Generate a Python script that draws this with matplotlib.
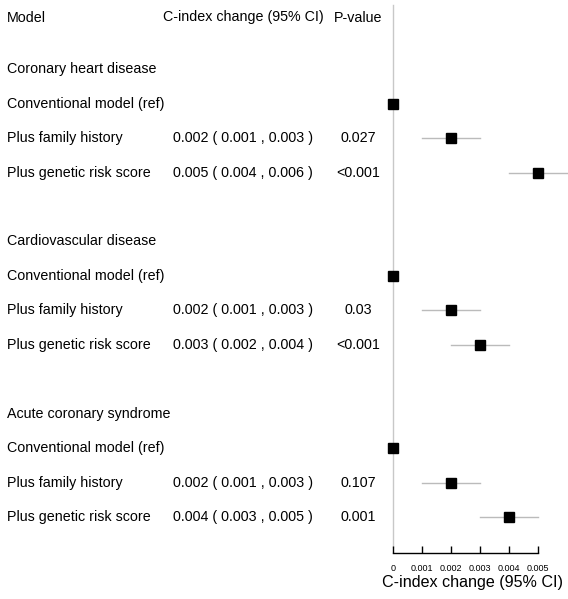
import matplotlib
matplotlib.use("Agg")
import matplotlib.pyplot as plt
from matplotlib.transforms import blended_transform_factory

plt.rcParams['font.family'] = ['Liberation Sans', 'DejaVu Sans']

# ---- data ----
groups = ["Coronary heart disease", "Cardiovascular disease", "Acute coronary syndrome"]
models = ["Conventional model (ref)", "Plus family history", "Plus genetic risk score"]
est = [[0.0, 0.002, 0.005], [0.0, 0.002, 0.003], [0.0, 0.002, 0.004]]
lo = [[0.0, 0.001, 0.004], [0.0, 0.001, 0.002], [0.0, 0.001, 0.003]]
hi = [[0.0, 0.003, 0.006], [0.0, 0.003, 0.004], [0.0, 0.003, 0.005]]
ci_text = [["", "0.002 ( 0.001 , 0.003 )", "0.005 ( 0.004 , 0.006 )"],
           ["", "0.002 ( 0.001 , 0.003 )", "0.003 ( 0.002 , 0.004 )"],
           ["", "0.002 ( 0.001 , 0.003 )", "0.004 ( 0.003 , 0.005 )"]]
pvals = [["", "0.027", "<0.001"], ["", "0.03", "<0.001"], ["", "0.107", "0.001"]]
xticks = [0, 0.001, 0.002, 0.003, 0.004, 0.005]
xtick_labels = ["0", "0.001", "0.002", "0.003", "0.004", "0.005"]

W, H = 568, 599
fig = plt.figure(figsize=(W / 100, H / 100), dpi=100)

ax_left, ax_right = 393, 567
ax_bottom_px = 553
ax = fig.add_axes([ax_left / W, 1 - ax_bottom_px / H, (ax_right - ax_left) / W, ax_bottom_px / H])

step = 34.45
y0px = 17.5
ax.set_xlim(0, 0.006)
ax.set_ylim((ax_bottom_px - y0px) / step, -y0px / step)

trans = blended_transform_factory(fig.transFigure, ax.transData)
fs = 10.3

# header
ax.text(7 / W, 0, "Model", transform=trans, fontsize=fs, va='center', ha='left')
ax.text(243 / W, 0, "C-index change (95% CI)", transform=trans, fontsize=fs, va='center', ha='center')
ax.text(358 / W, 0, "P-value", transform=trans, fontsize=fs, va='center', ha='center')

row = 1.5
for g, gname in enumerate(groups):
    ax.text(7 / W, row, gname, transform=trans, fontsize=fs, va='center', ha='left')
    row += 1
    for m, mname in enumerate(models):
        ax.text(7 / W, row, mname, transform=trans, fontsize=fs, va='center', ha='left')
        if ci_text[g][m]:
            ax.text(243 / W, row, ci_text[g][m], transform=trans, fontsize=fs, va='center', ha='center')
            ax.text(358 / W, row, pvals[g][m], transform=trans, fontsize=fs, va='center', ha='center')
        ax.plot([lo[g][m], hi[g][m]], [row, row], color='#bbbbbb', lw=1, zorder=2, clip_on=False)
        ax.plot(est[g][m], row, marker='s', color='black', ms=6.5, zorder=3, clip_on=False)
        row += 1
    row += 1

# reference line
ax.plot([0, 0], [(5 - y0px) / step, (547 - y0px) / step], color='#c8c8c8', lw=1, zorder=1, clip_on=False)

for s in ['top', 'right', 'left']:
    ax.spines[s].set_visible(False)
ax.spines['bottom'].set_bounds(0, 0.005)
ax.spines['bottom'].set_linewidth(1)
ax.set_yticks([])
ax.set_xticks(xticks)
ax.set_xticklabels(xtick_labels, fontsize=6.5)
ax.tick_params(axis='x', direction='in', length=5, width=1, pad=8)
ax.set_xlabel("C-index change (95% CI)", fontsize=11.6)
ax.xaxis.set_label_coords((472 - ax_left) / (ax_right - ax_left), -22 / ax_bottom_px)
ax.patch.set_visible(False)

fig.savefig("out.png", dpi=100)
